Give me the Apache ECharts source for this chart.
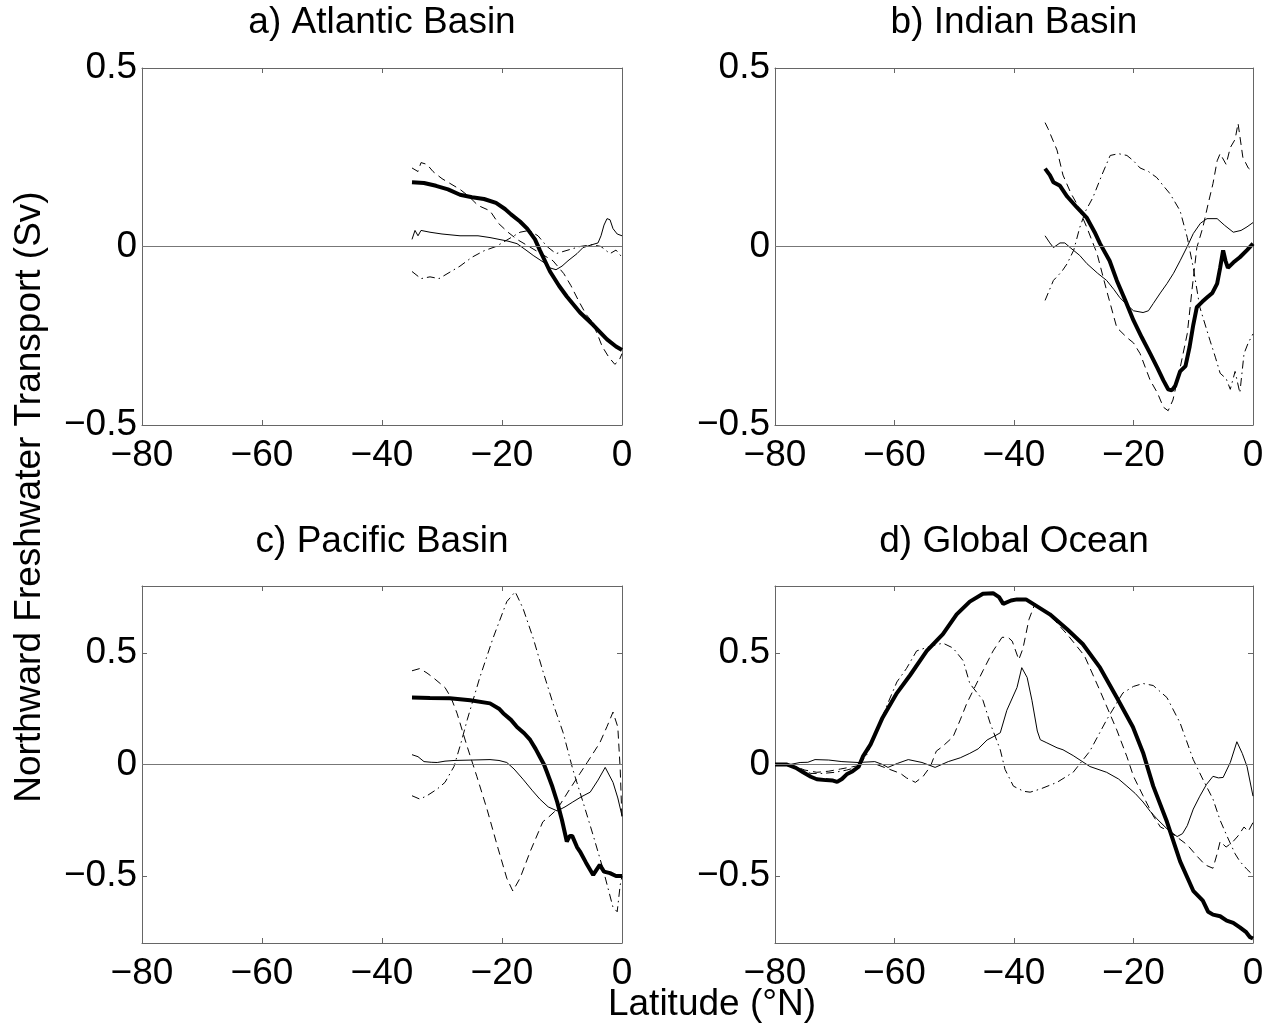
<!DOCTYPE html>
<html>
<head>
<meta charset="utf-8">
<script src="https://cdn.jsdelivr.net/npm/echarts@6/dist/echarts.min.js"></script>
<style>
  html, body { margin: 0; padding: 0; background: #fff; }
  #main { width: 1273px; height: 1023px; }
</style>
</head>
<body>
<div id="main"></div>
<script>
// panel titles and axis text
var panelTitles = ['a) Atlantic Basin', 'b) Indian Basin', 'c) Pacific Basin', 'd) Global Ocean'];
var xTicks = [-80, -60, -40, -20, 0];
var yTicks = [-0.5, 0, 0.5];
var yLimits = [[-0.5, 0.5], [-0.5, 0.5], [-0.8, 0.8], [-0.8, 0.8]];

// a) Atlantic  [latitude, Sv]
var atlThick = [[-35,0.18],[-33,0.178],[-31,0.17],[-29,0.16],[-27,0.145],[-25,0.138],[-23,0.133],[-21,0.122],[-19.5,0.105],[-18.5,0.09],[-17,0.07],[-15.8,0.05],[-14.5,0.02],[-13.7,-0.01],[-12,-0.07],[-10.5,-0.11],[-9.2,-0.14],[-7,-0.185],[-4.8,-0.22],[-2.5,-0.26],[-1,-0.28],[0,-0.29]];
var atlThin = [[-35,0.02],[-34.5,0.045],[-34,0.03],[-33.5,0.045],[-32,0.04],[-30,0.035],[-27,0.03],[-24,0.03],[-22,0.025],[-20.5,0.02],[-19,0.015],[-17.5,0.008],[-16,-0.01],[-14.8,-0.025],[-13,-0.045],[-12,-0.06],[-11,-0.065],[-10,-0.055],[-9,-0.04],[-7.5,-0.02],[-6.5,-0.003],[-5,0.005],[-4,0.01],[-3.5,0.03],[-3,0.06],[-2.5,0.078],[-2,0.075],[-1.5,0.05],[-0.8,0.035],[0,0.03]];
var atlDash = [[-35,0.22],[-34,0.21],[-33.5,0.235],[-32.5,0.23],[-31.5,0.21],[-30,0.19],[-28.5,0.175],[-27,0.16],[-25.5,0.14],[-24,0.115],[-22,0.1],[-20.6,0.065],[-19,0.04],[-17.5,0.02],[-15.5,0.0],[-13.5,-0.02],[-11.5,-0.04],[-9.7,-0.076],[-8.5,-0.11],[-7.3,-0.15],[-6,-0.19],[-5,-0.21],[-4,-0.25],[-3.3,-0.28],[-2.2,-0.31],[-1.2,-0.33],[-0.5,-0.32],[0,-0.3]];
var atlDashDot = [[-35,-0.07],[-33.5,-0.09],[-32,-0.085],[-30.5,-0.09],[-29,-0.075],[-27,-0.055],[-25,-0.03],[-23,-0.012],[-21,0.0],[-19,0.02],[-17,0.04],[-15.5,0.045],[-14,0.03],[-12.5,0.0],[-11,-0.02],[-9,-0.01],[-7,0.0],[-5,0.005],[-3.5,0.0],[-2,-0.02],[-1,-0.01],[0,-0.03]];

// b) Indian
var indThick = [[-34.8,0.218],[-34,0.2],[-33.4,0.18],[-32.3,0.17],[-31.1,0.14],[-29.5,0.11],[-27.8,0.08],[-26.5,0.04],[-25.6,0.008],[-24,-0.04],[-22.8,-0.095],[-21.4,-0.15],[-20,-0.207],[-18.6,-0.255],[-17.2,-0.3],[-16,-0.34],[-15,-0.375],[-14.2,-0.4],[-13.6,-0.403],[-13,-0.39],[-12.2,-0.35],[-11.3,-0.335],[-10.6,-0.28],[-10,-0.22],[-9.4,-0.17],[-8.5,-0.155],[-7.7,-0.143],[-6.8,-0.13],[-6,-0.104],[-5.5,-0.06],[-5,-0.011],[-4.6,-0.04],[-4.2,-0.06],[-3.3,-0.045],[-2.2,-0.03],[-1,-0.01],[0,0.008]];
var indThin = [[-34.8,0.03],[-34,0.01],[-33.4,-0.003],[-32.3,0.01],[-31.5,0.01],[-30.6,-0.003],[-29,-0.025],[-27.8,-0.048],[-26,-0.075],[-24.5,-0.095],[-23.3,-0.12],[-22.3,-0.143],[-21,-0.165],[-20,-0.18],[-18.4,-0.185],[-17.5,-0.18],[-16.7,-0.16],[-15.5,-0.13],[-14.4,-0.104],[-13.3,-0.075],[-12.2,-0.04],[-11,0.0],[-10,0.036],[-8.8,0.065],[-7.7,0.078],[-6,0.078],[-4.8,0.06],[-3.3,0.04],[-2,0.045],[-1,0.055],[0,0.067]];
var indDash = [[-34.8,0.347],[-34.3,0.33],[-34,0.325],[-32.8,0.27],[-31.8,0.2],[-30.5,0.15],[-29.5,0.12],[-27.8,0.053],[-26.1,-0.02],[-24.5,-0.123],[-22.8,-0.227],[-21.1,-0.255],[-20,-0.27],[-18.9,-0.3],[-17.2,-0.375],[-16,-0.41],[-15,-0.45],[-14.2,-0.46],[-13.4,-0.43],[-12.2,-0.34],[-11,-0.244],[-10.2,-0.12],[-9.4,-0.003],[-8.4,0.053],[-7.5,0.12],[-6.7,0.176],[-6,0.24],[-5.5,0.26],[-4.5,0.23],[-3.8,0.277],[-3,0.3],[-2.5,0.345],[-1.7,0.25],[-0.8,0.22],[0,0.21]];
var indDashDot = [[-34.8,-0.151],[-33.4,-0.095],[-32,-0.07],[-31.1,-0.048],[-30,-0.01],[-29,0.053],[-28,0.1],[-26.8,0.137],[-25.3,0.2],[-23.9,0.255],[-22.5,0.26],[-21.1,0.255],[-20,0.24],[-18.9,0.22],[-17.5,0.21],[-16.1,0.193],[-15,0.17],[-13.9,0.148],[-12.2,0.1],[-11,0.025],[-10,-0.059],[-8.9,-0.17],[-7.2,-0.263],[-6.3,-0.31],[-5.5,-0.355],[-4.5,-0.37],[-3.8,-0.4],[-3,-0.35],[-2.2,-0.41],[-1.5,-0.3],[-0.8,-0.27],[0,-0.245]];

// c) Pacific
var pacThick = [[-35,0.30],[-32,0.298],[-28.7,0.297],[-25.3,0.288],[-22,0.274],[-20.5,0.25],[-19.8,0.23],[-18.5,0.2],[-17.5,0.168],[-16.3,0.14],[-15.3,0.11],[-14.4,0.07],[-13.7,0.035],[-13,0.0],[-12.5,-0.035],[-11.6,-0.1],[-10.8,-0.168],[-10,-0.25],[-9.2,-0.345],[-8.7,-0.32],[-8.3,-0.32],[-7.5,-0.37],[-7,-0.39],[-6,-0.44],[-4.8,-0.495],[-4.2,-0.47],[-3.7,-0.45],[-3,-0.48],[-2,-0.487],[-1,-0.5],[0,-0.5]];
var pacThin = [[-35,0.044],[-34,0.035],[-33,0.013],[-31.8,0.01],[-30.8,0.009],[-29.5,0.015],[-28,0.018],[-25,0.02],[-22,0.022],[-20.5,0.018],[-19.2,0.009],[-18,-0.02],[-16.5,-0.066],[-15,-0.115],[-13.7,-0.155],[-12.3,-0.19],[-10.8,-0.208],[-9.5,-0.19],[-8.2,-0.168],[-6.8,-0.145],[-5.3,-0.124],[-4,-0.07],[-2.8,-0.013],[-1.5,-0.08],[-0.7,-0.15],[0,-0.23]];
var pacDash = [[-35,0.42],[-33.7,0.43],[-32.5,0.41],[-31.5,0.39],[-29.5,0.345],[-28.5,0.3],[-27.5,0.23],[-25.8,0.08],[-24.2,-0.053],[-22.5,-0.2],[-20.8,-0.363],[-19.2,-0.51],[-18.2,-0.567],[-17,-0.51],[-15.3,-0.39],[-13.2,-0.257],[-12,-0.23],[-10.8,-0.2],[-8.7,-0.11],[-7,-0.04],[-5.8,0.009],[-3.7,0.097],[-2.5,0.17],[-1.5,0.235],[-0.7,0.168],[-0.3,-0.02],[0,-0.25]];
var pacDashDot = [[-35,-0.14],[-33.7,-0.155],[-32.5,-0.14],[-30.8,-0.11],[-29.5,-0.08],[-28,-0.009],[-26.8,0.1],[-25.8,0.2],[-23.7,0.39],[-21.5,0.566],[-19.2,0.73],[-17.8,0.774],[-16.5,0.7],[-14.8,0.566],[-13.2,0.42],[-11.5,0.274],[-9.8,0.142],[-8.2,-0.022],[-6.5,-0.168],[-4.8,-0.318],[-3.2,-0.465],[-1.5,-0.64],[-0.8,-0.66],[-0.3,-0.54],[0,-0.5]];

// d) Global
var gloThick = [[-80,0],[-78,0],[-76.5,-0.015],[-75.3,-0.035],[-74,-0.055],[-73,-0.066],[-71.5,-0.07],[-70.3,-0.072],[-69.6,-0.078],[-68.8,-0.065],[-68,-0.044],[-67,-0.03],[-66,-0.01],[-65.3,0.035],[-64,0.09],[-62,0.21],[-59.6,0.32],[-57.4,0.4],[-54.6,0.509],[-51.9,0.584],[-49.6,0.673],[-47.4,0.73],[-45.2,0.765],[-43.5,0.768],[-42.5,0.75],[-41.8,0.72],[-40.5,0.735],[-39.5,0.74],[-38,0.74],[-36.8,0.72],[-34,0.673],[-31.1,0.606],[-28.5,0.54],[-25.6,0.434],[-22.8,0.30],[-20.1,0.168],[-18.4,0.053],[-16.7,-0.097],[-14.4,-0.257],[-12.2,-0.434],[-10,-0.566],[-8.4,-0.61],[-7.5,-0.66],[-6.7,-0.673],[-5.5,-0.68],[-4.4,-0.70],[-3.3,-0.71],[-2.2,-0.73],[-1.2,-0.75],[-0.5,-0.774],[0,-0.78]];
var gloThin = [[-80,0],[-77.5,0.0],[-75.8,0.009],[-74.5,0.01],[-73.3,0.022],[-71,0.02],[-68.8,0.013],[-66.1,0.009],[-63.3,0.013],[-62,0.0],[-61.1,-0.013],[-59.5,0.005],[-57.7,0.022],[-55.4,0.009],[-53.2,-0.013],[-51,0.013],[-49,0.03],[-47.4,0.05],[-46,0.07],[-44.5,0.11],[-43.5,0.124],[-42.3,0.142],[-41.2,0.243],[-39.5,0.345],[-38.7,0.434],[-37.8,0.39],[-37,0.288],[-36.1,0.15],[-35.6,0.111],[-34.5,0.097],[-32.8,0.075],[-31.8,0.066],[-30.1,0.04],[-27.3,-0.009],[-24.5,-0.035],[-22.5,-0.065],[-21.1,-0.097],[-19.7,-0.13],[-18.4,-0.168],[-17.2,-0.21],[-16.1,-0.243],[-14.4,-0.288],[-12.7,-0.323],[-11.8,-0.31],[-11,-0.274],[-10,-0.2],[-8.9,-0.142],[-7.8,-0.09],[-6.7,-0.053],[-5.8,-0.06],[-5,-0.058],[-3.8,0.009],[-2.7,0.102],[-1.8,0.05],[-1,-0.009],[0,-0.142]];
var gloDash = [[-80,0],[-77,-0.005],[-75,-0.025],[-73,-0.035],[-71,-0.03],[-69,-0.02],[-67,-0.01],[-65,0.0],[-63,0.0],[-61,-0.02],[-59,-0.04],[-58,-0.06],[-56.5,-0.08],[-55.2,-0.053],[-54,-0.009],[-53,0.06],[-52,0.08],[-50.2,0.124],[-49,0.2],[-47.9,0.274],[-46.5,0.35],[-45.2,0.42],[-43.5,0.509],[-42,0.57],[-41,0.57],[-40.3,0.553],[-39.2,0.47],[-38.5,0.52],[-37.5,0.65],[-36.5,0.72],[-35,0.69],[-33,0.64],[-31,0.58],[-28.2,0.487],[-25.6,0.33],[-22.8,0.155],[-21.1,0.035],[-20,-0.053],[-18.4,-0.14],[-16.7,-0.23],[-15.5,-0.28],[-14,-0.3],[-12.5,-0.33],[-11,-0.36],[-9.4,-0.41],[-8,-0.45],[-6.7,-0.465],[-6,-0.4],[-5.5,-0.345],[-4.5,-0.37],[-3.5,-0.35],[-2.5,-0.32],[-1.5,-0.28],[-0.8,-0.3],[0,-0.26]];
var gloDashDot = [[-80,0],[-78,-0.005],[-76,-0.02],[-74,-0.04],[-72,-0.04],[-70,-0.035],[-68,-0.025],[-66,-0.01],[-64.5,0.05],[-63,0.15],[-61.5,0.25],[-59.6,0.37],[-58,0.43],[-56.3,0.509],[-54,0.53],[-51.9,0.544],[-50.2,0.522],[-48.5,0.465],[-47.4,0.363],[-45.2,0.288],[-44,0.186],[-42.3,0.066],[-41.5,-0.022],[-40.1,-0.097],[-38.4,-0.12],[-37.3,-0.124],[-35.6,-0.11],[-32.8,-0.08],[-30.1,-0.035],[-27.3,0.06],[-24.5,0.2],[-21.8,0.32],[-20,0.35],[-18.4,0.363],[-16.7,0.354],[-14.4,0.3],[-12.2,0.186],[-10,0.022],[-8.4,-0.066],[-6.7,-0.155],[-5.5,-0.25],[-4.4,-0.318],[-3,-0.4],[-2.2,-0.434],[-1,-0.47],[0,-0.495]];

var panels = [
  [atlThick, atlThin, atlDash, atlDashDot],
  [indThick, indThin, indDash, indDashDot],
  [pacThick, pacThin, pacDash, pacDashDot],
  [gloThick, gloThin, gloDash, gloDashDot]
];

var FONT = 'Liberation Sans, Arial, Helvetica, sans-serif';
var frameColor = '#666';

// grid boxes
var boxes = [
  { left: 142, top: 68, width: 480, height: 357 },
  { left: 775, top: 68, width: 478, height: 357 },
  { left: 142, top: 586, width: 480, height: 357 },
  { left: 775, top: 586, width: 478, height: 357 }
];

function minus(v) {
  return String(v).replace('-', '\u2212');
}

var grid = [], xAxis = [], yAxis = [], series = [];
var lineStyles = [
  { width: 4, type: 'solid' },
  { width: 1, type: 'solid' },
  { width: 1, type: [8, 5] },
  { width: 1, type: [8, 4, 1.5, 4] }
];

boxes.forEach(function (b, i) {
  grid.push(b);
  var lim = yLimits[i];
  // bottom x axis with labels
  xAxis.push({
    type: 'value', gridIndex: i, min: -80, max: 0, position: 'bottom',
    axisLine: { show: true, onZero: false, lineStyle: { color: frameColor, width: 1 } },
    axisTick: { show: true, inside: true, length: 5, customValues: xTicks, lineStyle: { color: frameColor } },
    axisLabel: { customValues: xTicks, margin: 12, fontSize: 37, fontFamily: FONT, color: '#000', formatter: minus },
    splitLine: { show: false }
  });
  // top mirror
  xAxis.push({
    type: 'value', gridIndex: i, min: -80, max: 0, position: 'top',
    axisLine: { show: true, onZero: false, lineStyle: { color: frameColor, width: 1 } },
    axisTick: { show: true, inside: true, length: 5, customValues: xTicks, lineStyle: { color: frameColor } },
    axisLabel: { show: false },
    splitLine: { show: false }
  });
  yAxis.push({
    type: 'value', gridIndex: i, min: lim[0], max: lim[1], position: 'left',
    axisLine: { show: true, onZero: false, lineStyle: { color: frameColor, width: 1 } },
    axisTick: { show: true, inside: true, length: 5, customValues: yTicks, lineStyle: { color: frameColor } },
    axisLabel: { customValues: yTicks, margin: 5, fontSize: 37, fontFamily: FONT, color: '#000', formatter: minus },
    splitLine: { show: false }
  });
  yAxis.push({
    type: 'value', gridIndex: i, min: lim[0], max: lim[1], position: 'right',
    axisLine: { show: true, onZero: false, lineStyle: { color: frameColor, width: 1 } },
    axisTick: { show: true, inside: true, length: 5, customValues: yTicks, lineStyle: { color: frameColor } },
    axisLabel: { show: false },
    splitLine: { show: false }
  });

  panels[i].forEach(function (d, k) {
    var s = {
      type: 'line', data: d, xAxisIndex: i * 2, yAxisIndex: i * 2,
      showSymbol: false, symbol: 'none', silent: true,
      lineStyle: { color: '#000', width: lineStyles[k].width, type: lineStyles[k].type },
      z: 4 - k
    };
    if (k === 1) {
      s.markLine = {
        silent: true, symbol: 'none', label: { show: false },
        lineStyle: { color: '#777', width: 1.2, type: 'solid' },
        data: [{ yAxis: 0 }]
      };
    }
    series.push(s);
  });
});

var centers = [382, 1014, 382, 1014];
var titleY = [23, 23, 542, 542];
var graphic = panelTitles.map(function (t, i) {
  return {
    type: 'text', x: centers[i], y: titleY[i],
    style: { text: t, font: '37px ' + FONT, fill: '#000', textAlign: 'center', textVerticalAlign: 'middle' }
  };
});
graphic.push({
  type: 'text', x: 30, y: 497, rotation: Math.PI / 2,
  style: { text: 'Northward Freshwater Transport (Sv)', font: '37px ' + FONT, fill: '#000', textAlign: 'center', textVerticalAlign: 'middle' }
});
graphic.push({
  type: 'text', x: 712, y: 1005,
  style: { text: 'Latitude (\u00b0N)', font: '37px ' + FONT, fill: '#000', textAlign: 'center', textVerticalAlign: 'middle' }
});

var chart = echarts.init(document.getElementById('main'));
chart.setOption({
  backgroundColor: '#fff',
  animation: false,
  grid: grid,
  xAxis: xAxis,
  yAxis: yAxis,
  series: series,
  graphic: graphic
});
</script>
</body>
</html>
